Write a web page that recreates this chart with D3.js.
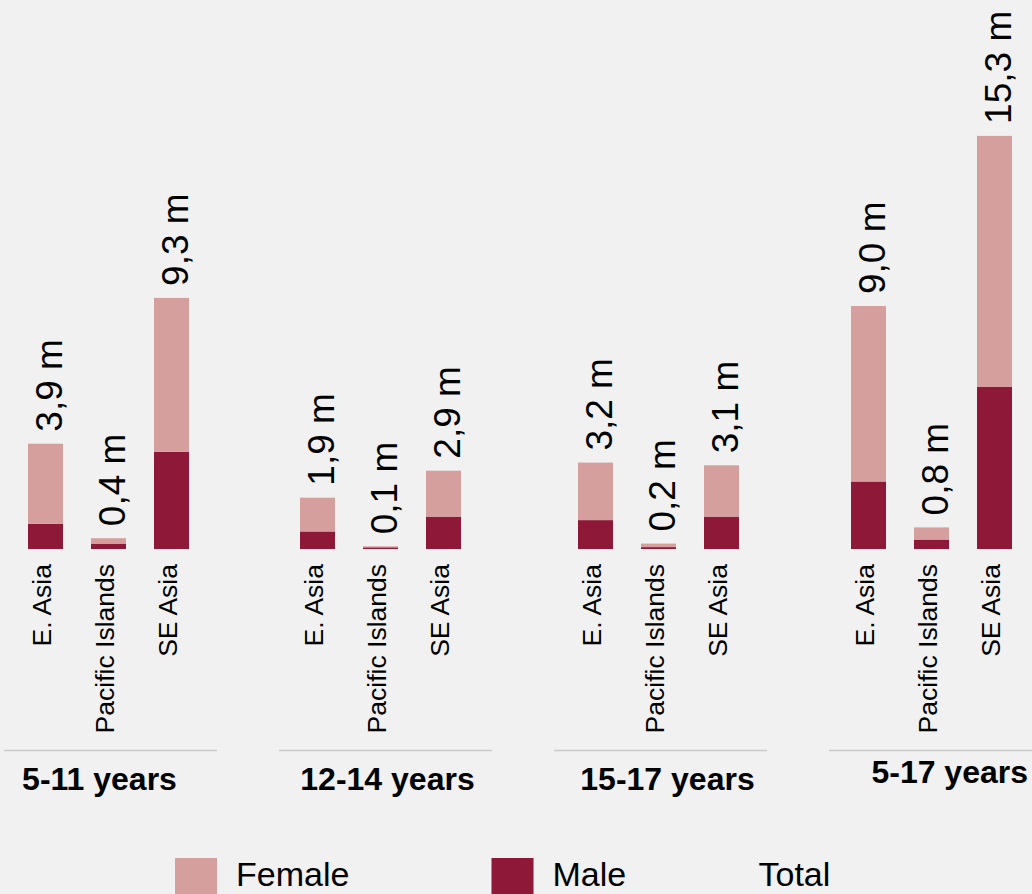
<!DOCTYPE html>
<html>
<head>
<meta charset="utf-8">
<script src="https://cdn.jsdelivr.net/npm/d3@7"></script>
<style>
  html, body { margin: 0; padding: 0; background: #f1f1f1; }
  svg { display: block; font-family: "Liberation Sans", Arial, Helvetica, sans-serif; }
</style>
</head>
<body>
<svg id="chart" width="1032" height="894"></svg>
<script>
// Age groups and regions
const ageGroups = ["5-11 years", "12-14 years", "15-17 years", "5-17 years"];
const regions = ["E. Asia", "Pacific Islands", "SE Asia"];

// Totals per age group (millions), one entry per region
const totals = [
  [3.9, 0.4, 9.3],
  [1.9, 0.1, 2.9],
  [3.2, 0.2, 3.1],
  [9.0, 0.8, 15.3]
];
// Male share of each total (millions)
const male = [
  [0.93, 0.2, 3.6],
  [0.65, 0.06, 1.2],
  [1.07, 0.07, 1.2],
  [2.5, 0.35, 6.0]
];
const legendLabels = ["Female", "Male", "Total"];

const W = 1032, H = 894;
const baseY = 549;
const colors = { Female: "#d59f9d", Male: "#8e1838" };

const svg = d3.select("#chart");
svg.append("rect").attr("width", W).attr("height", H).attr("fill", "#f1f1f1");

// Each age group occupies a panel; bars sit inside it
const gx = d3.scaleBand().domain(ageGroups).range([4, 1042]).paddingInner(62 / 275).paddingOuter(0);
const bx = d3.scaleBand().domain(regions).range([23, 184]).paddingInner(28 / 63).paddingOuter(0);
const y = d3.scaleLinear().domain([0, 20]).range([baseY, baseY - 540]);

const fmt = v => d3.format(".1f")(v).replace(".", ",") + " m";

// Horizontal nudges for bars and titles within each panel
const barShift = [1, -2, 1, -1];
const labelShift = [-11, 2, 7, 0];

ageGroups.forEach((g, gi) => {
  const x0 = gx(g);
  const panel = svg.append("g").attr("transform", `translate(${x0},0)`);
  const bars = panel.append("g").attr("transform", `translate(${barShift[gi]},0)`);

  const rows = regions.map((r, ri) => ({
    region: r,
    total: totals[gi][ri],
    male: male[gi][ri],
    female: totals[gi][ri] - male[gi][ri]
  }));

  const stacked = d3.stack().keys(["Male", "Female"])
    .value((d, k) => k === "Male" ? d.male : d.female)(rows);

  bars.selectAll("g.series").data(stacked).join("g")
    .attr("fill", s => colors[s.key])
    .selectAll("rect").data(s => s).join("rect")
    .attr("x", d => bx(d.data.region))
    .attr("width", bx.bandwidth())
    .attr("y", d => y(d[1]))
    .attr("height", d => y(d[0]) - y(d[1]));

  // total labels above bars
  bars.selectAll("text.val").data(rows).join("text")
    .attr("class", "val")
    .attr("transform", d => `translate(${bx(d.region) + bx.bandwidth() / 2},${y(d.total) - 12}) rotate(-90)`)
    .attr("dy", "0.45em")
    .attr("text-anchor", "start")
    .attr("font-size", 37)
    .attr("fill", "#000")
    .text(d => fmt(d.total));

  // region labels below baseline
  bars.selectAll("text.cat").data(rows).join("text")
    .attr("class", "cat")
    .attr("transform", d => `translate(${bx(d.region) + bx.bandwidth() / 2},${baseY + 15}) rotate(-90)`)
    .attr("dy", "0.19em")
    .attr("text-anchor", "end")
    .attr("font-size", 26.5)
    .attr("fill", "#000")
    .text(d => d.region);

  // panel separator
  panel.append("line")
    .attr("x1", 0).attr("x2", gx.bandwidth())
    .attr("y1", 750.5).attr("y2", 750.5)
    .attr("stroke", "#c9c9c9").attr("stroke-width", 1.5);

  // age-group title
  const last = gi === ageGroups.length - 1;
  svg.append("text")
    .attr("x", last ? W - 4 : x0 + gx.bandwidth() / 2 + labelShift[gi])
    .attr("y", last ? 783 : 790)
    .attr("text-anchor", last ? "end" : "middle")
    .attr("font-size", 32)
    .attr("font-weight", "bold")
    .attr("fill", "#000")
    .text(g);
});

// legend
const legendItems = [
  { label: legendLabels[0], color: colors.Female, x: 175 },
  { label: legendLabels[1], color: colors.Male, x: 491.5 },
  { label: legendLabels[2], color: null, x: 697.5 }
];
const lg = svg.append("g");
legendItems.forEach(it => {
  if (it.color) {
    lg.append("rect").attr("x", it.x).attr("y", 858).attr("width", 42).attr("height", 42).attr("fill", it.color);
  }
  lg.append("text").attr("x", it.x + 61).attr("y", 886)
    .attr("font-size", 34).attr("fill", "#000").text(it.label);
});
</script>
</body>
</html>
